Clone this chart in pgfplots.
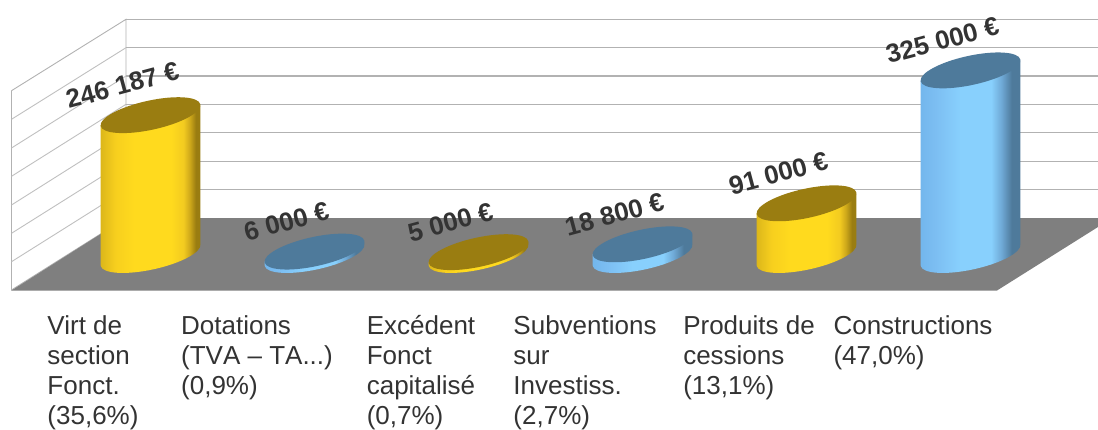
\documentclass[border=0pt]{standalone}
\usepackage{pgfplots}
\pgfplotsset{compat=1.18}
\usepackage{fontspec}
\setmainfont{Liberation Sans}
\definecolor{topY}{HTML}{9A7D11}
\definecolor{topB}{HTML}{4E7A9B}
\definecolor{floorc}{HTML}{7F7F7F}
\definecolor{gridc}{HTML}{B2B2B2}
\definecolor{gridl}{HTML}{C0C0C0}
\definecolor{labc}{HTML}{333333}
\definecolor{ya}{HTML}{D9B41A}
\definecolor{yb}{HTML}{F7CF1E}
\definecolor{yc}{HTML}{FFDA1E}
\definecolor{yd}{HTML}{F3CB20}
\definecolor{ye}{HTML}{CFA91A}
\definecolor{ba}{HTML}{72B6EC}
\definecolor{bb}{HTML}{7CBEF2}
\definecolor{bc}{HTML}{88D0FD}
\definecolor{bd}{HTML}{6FA9D6}
\newcommand{\threedots}{...}
\pgfdeclarehorizontalshading{cylYs}{100bp}{
 color(0bp)=(ya); color(25bp)=(ya); color(33bp)=(yb); color(42bp)=(yc);
 color(60bp)=(yc); color(66bp)=(yd); color(69bp)=(ye); color(72bp)=(topY);
 color(75bp)=(topY); color(100bp)=(topY)}
\pgfdeclarehorizontalshading{cylBs}{100bp}{
 color(0bp)=(ba); color(25bp)=(ba); color(33bp)=(bb); color(45bp)=(bc);
 color(60bp)=(bc); color(65bp)=(bd); color(70bp)=(topB);
 color(75bp)=(topB); color(100bp)=(topB)}
% Cylinder mark: origin at the centre of the top face, height from the value
\newcommand{\cylmark}[3]{%
 \pgfdeclareplotmark{#1}{%
  \pgfmathsetmacro\cylh{\val*0.568}%
  \pgfmathsetmacro\cylr{9.95-\cylh}%
  \pgfmathsetmacro\cyll{-9.95-\cylh}%
  \pgfmathsetmacro\cylb{-\cylh}%
  \begin{pgfscope}%
   \pgfpathmoveto{\pgfpoint{-49.93pt}{-9.95pt}}%
   \pgfpathlineto{\pgfpoint{49.93pt}{9.95pt}}%
   \pgfpathlineto{\pgfpoint{49.93pt}{\cylr pt}}%
   \pgfpathlineto{\pgfpoint{-49.93pt}{\cyll pt}}%
   \pgfpathclose
   \pgfpathellipse{\pgfpoint{0pt}{\cylb pt}}{\pgfpoint{49.83pt}{10.87pt}}{\pgfpoint{3.11pt}{-14.27pt}}%
   \pgfshadepath{#2}{0}%
   \pgfusepath{discard}%
  \end{pgfscope}%
  \begin{pgfscope}%
   \pgfsetfillcolor{#3}%
   \pgfpathellipse{\pgfpointorigin}{\pgfpoint{49.83pt}{10.87pt}}{\pgfpoint{-3.11pt}{14.27pt}}%
   \pgfusepath{fill}%
  \end{pgfscope}%
 }}
\cylmark{cylY}{cylYs}{topY}
\cylmark{cylB}{cylBs}{topB}
\begin{document}
\begin{tikzpicture}[x=1pt,y=1pt]
\useasboundingbox (0,0) rectangle (1098,429);
% chart frame, in picture pixels
\begin{axis}[at={(0,0)},anchor=south west,scale only axis,width=1098pt,height=429pt,
  xmin=0,xmax=1098,ymin=0,ymax=429,y dir=reverse,hide axis,clip=false]
\addplot[draw=gridc,line width=0.9pt,fill=white] coordinates {(11.5,90.7)(126,19.3)(126,218)(11.5,290)(11.5,90.7)};
\addplot[gridl,line width=0.9pt] coordinates {(11.5,119.3)(126,47.7)};
\addplot[gridl,line width=0.9pt] coordinates {(11.5,148)(126,76)};
\addplot[gridl,line width=0.9pt] coordinates {(11.5,176.3)(126,104.3)};
\addplot[gridl,line width=0.9pt] coordinates {(11.5,205)(126,132.7)};
\addplot[gridl,line width=0.9pt] coordinates {(11.5,233.3)(126,161.3)};
\addplot[gridl,line width=0.9pt] coordinates {(11.5,261.7)(126,189.7)};
\addplot[gridc,line width=1.5pt] coordinates {(126,19.3)(1098,19.3)};
\addplot[gridc,line width=1.5pt] coordinates {(126,47.7)(1098,47.7)};
\addplot[gridc,line width=1.5pt] coordinates {(126,76)(1098,76)};
\addplot[gridc,line width=1.5pt] coordinates {(126,104.3)(1098,104.3)};
\addplot[gridc,line width=1.5pt] coordinates {(126,132.7)(1098,132.7)};
\addplot[gridc,line width=1.5pt] coordinates {(126,161.3)(1098,161.3)};
\addplot[gridc,line width=1.5pt] coordinates {(126,189.7)(1098,189.7)};
\addplot[draw=none,fill=floorc] coordinates {(11.5,290.5)(997,290.5)(1098,227)(1098,218)(126,218)(11.5,290.5)};
\end{axis}
% data: euros against category, baseline y=0 at pixel row 255, 0.568 px per 1000 euros
\begin{axis}[at={(0,129pt)},anchor=south west,scale only axis,width=1098pt,height=300pt,
  xmin=-0.9177,xmax=5.7774,ymin=-79225,ymax=448944,
  axis line style={draw=none},major tick length=0pt,ytick=\empty,
  xtick={0,1,2,3,4,5},
  xticklabels={{Virt de\\section\\Fonct.\\(35,6\%)},{Dotations\\\addfontfeature{Kerning=Off}(TVA – TA\threedots)\\(0,9\%)},{Excédent\\Fonct\\capitalisé\\(0,7\%)},{Subventions\\sur\\Investiss.\\(2,7\%)},{Produits de\\cessions\\(13,1\%)},{Constructions\\(47,0\%)}},
  xticklabel style={align=left,anchor=north,xshift=-57.5pt,yshift=-12pt,text=labc,
     font=\fontsize{26}{30}\selectfont},
  clip=false,
  scatter,only marks,
  visualization depends on={value \thisrow{k} \as \val},
  point meta=\thisrow{v},
  nodes near coords={\pgfmathprintnumber[fixed,precision=0,1000 sep={\ },assume math mode=true]{\pgfplotspointmeta}\ €},
  every node near coord/.style={anchor=center,xshift=-28pt,yshift=30pt,rotate=15,
     font=\fontsize{26}{30}\selectfont\bfseries,text=labc},
]
\addplot[mark=cylY] table[x=x,y=v] {
x v k
0 246187 246.187
2 5000 5
4 91000 91
};
\addplot[mark=cylB] table[x=x,y=v] {
x v k
1 6000 6
3 18800 18.8
5 325000 325
};
\end{axis}
\end{tikzpicture}
\end{document}
